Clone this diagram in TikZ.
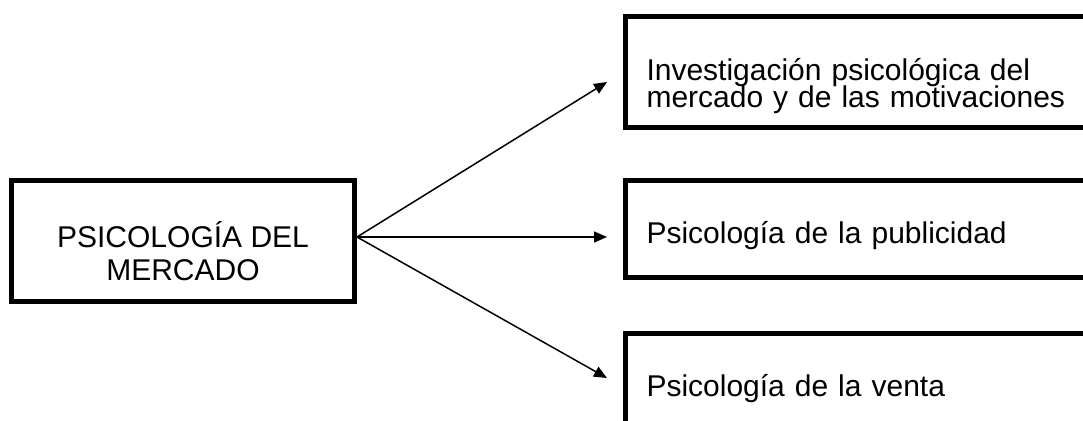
\documentclass[tikz,border=0pt]{standalone}
\usepackage{fontspec}
\setmainfont{Liberation Sans}
\usetikzlibrary{arrows.meta,positioning}

\begin{document}
\begin{tikzpicture}
  [
  x=1pt, y=-1pt,
  line width=1.5pt,
  draw=black, >={Triangle[length=13pt,width=11pt]},
  mainbox/.style={rectangle, draw=black, line width=5pt, minimum width=343pt, minimum height=121pt, align=center, font=\fontsize{30}{33}\selectfont},
  topicbox/.style={rectangle, draw=black, line width=5pt, anchor=north west, inner xsep=21pt, inner ysep=0pt, text width=430pt, align=left, font=\fontsize{30}{28}\selectfont},
  ]
  \useasboundingbox (0,0) rectangle (1083,420);
  \clip (0,0) rectangle (1083,420);

  \node[mainbox, text height=78pt, text depth=0pt] (psico) at (183,241) {PSICOLOGÍA DEL\\MERCADO};

  \node[topicbox, text height=63.5pt, text depth=47.5pt] (invest) at (623,14) {Investigación psicológica del\\mercado y de las motivaciones};
  \node[topicbox, text height=62.5pt, text depth=34.5pt] (publi) at (623,178) {Psicología de la publicidad};
  \node[topicbox, text height=62.5pt, text depth=34.5pt] (venta) at (623,331) {Psicología de la venta};

  \coordinate (fan) at ([yshift=4pt]psico.east);
  \coordinate (tipinv) at (607,82);
  \coordinate (tippub) at (607,237);
  \coordinate (tipvent) at (607,378);
  \draw[->] (fan) -- (tipinv);
  \draw[->] (fan) -- (tippub);
  \draw[->] (fan) -- (tipvent);
\end{tikzpicture}
\end{document}
